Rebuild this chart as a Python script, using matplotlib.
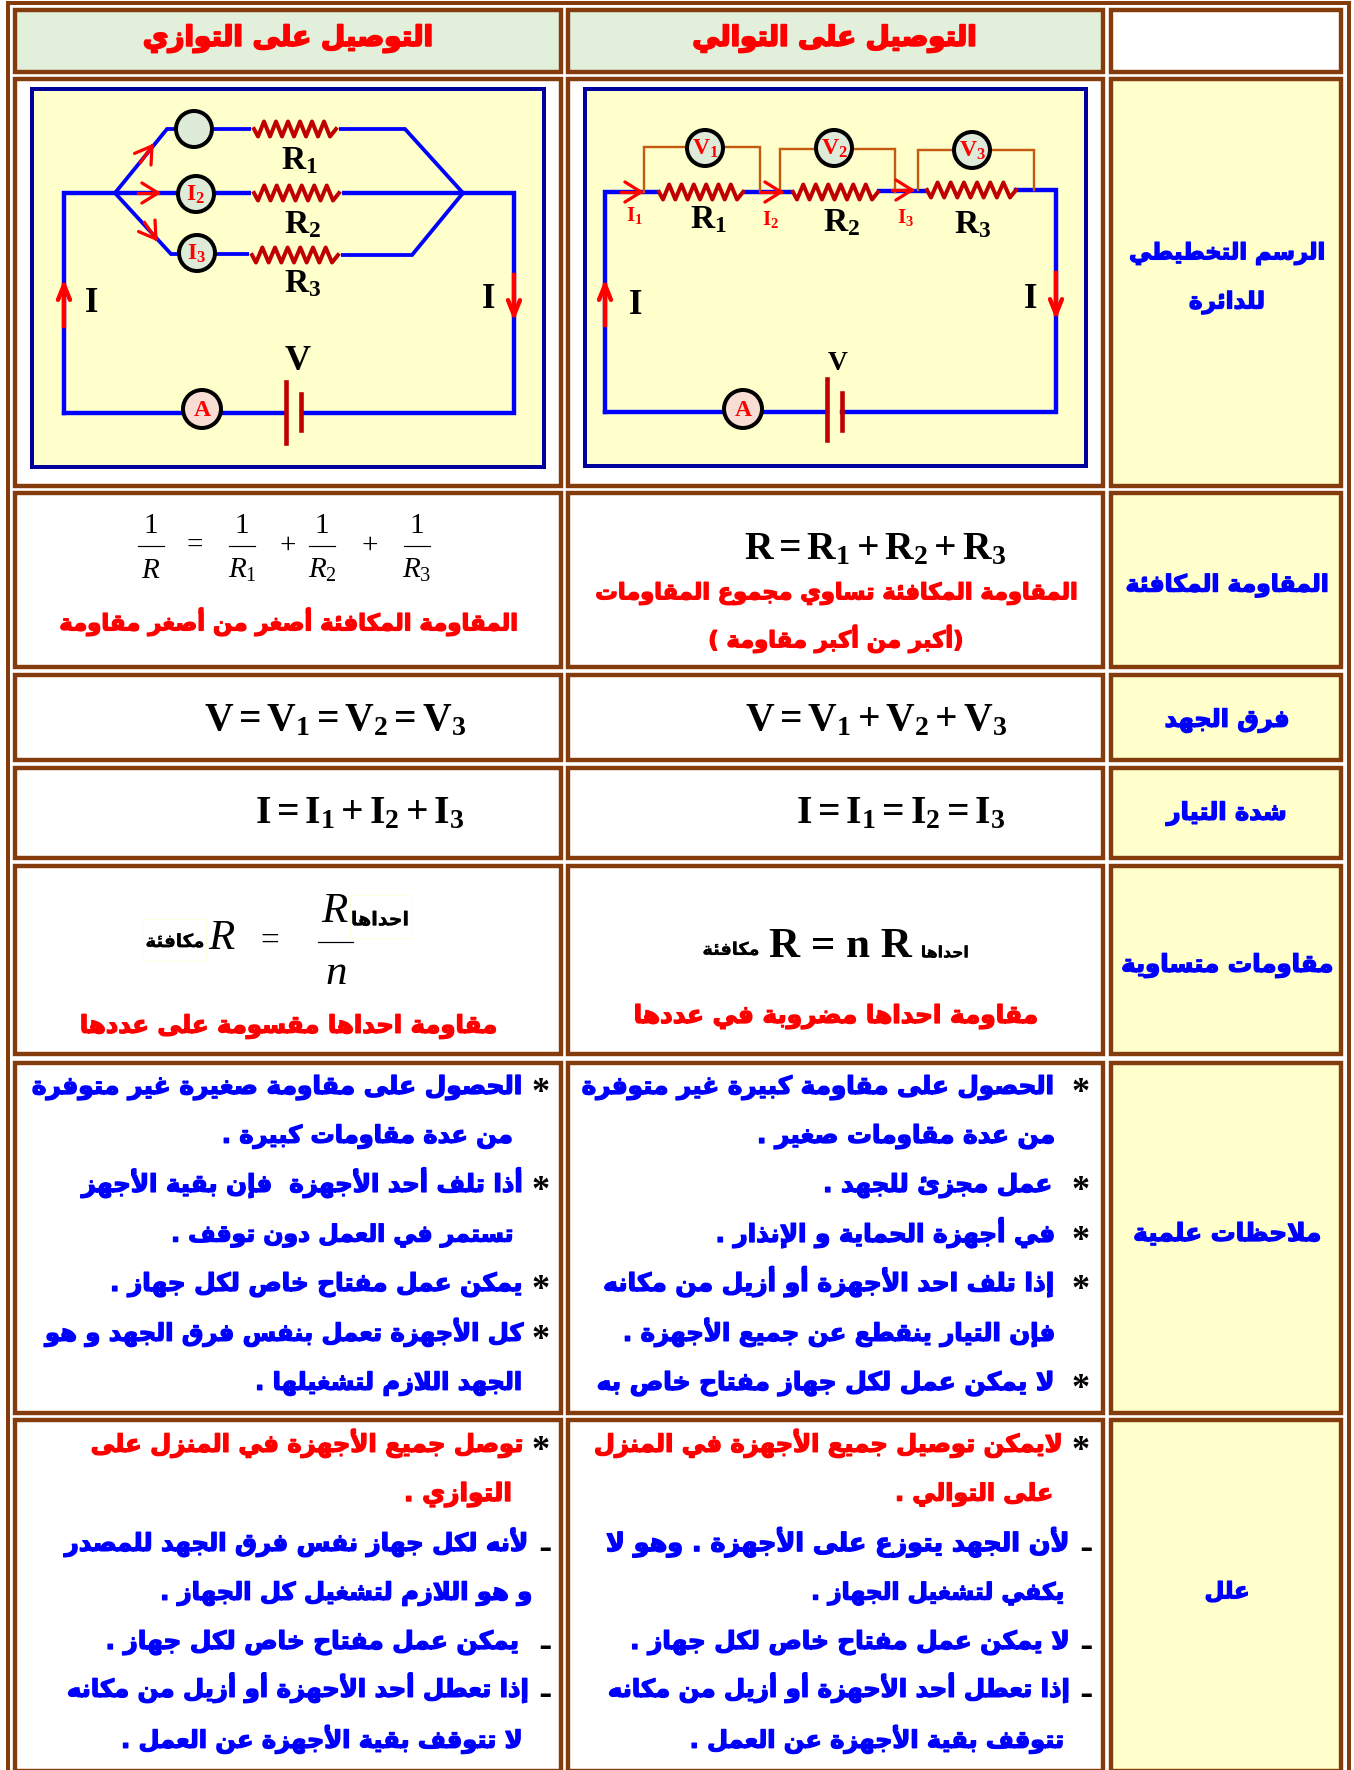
import matplotlib
matplotlib.use("Agg")
import matplotlib.pyplot as plt
from matplotlib.patches import Rectangle, Ellipse
import matplotlib.patheffects as pe
import numpy as np

plt.rcParams["mathtext.fontset"] = "custom"
plt.rcParams["mathtext.rm"] = "Liberation Serif"
plt.rcParams["mathtext.it"] = "Liberation Serif:italic"
plt.rcParams["mathtext.bf"] = "Liberation Serif:bold"

W, H = 1354, 1770
BROWN = "#843C0C"
CREAM = "#FFFFCC"
PALE_GREEN = "#E2EFDA"
NAVY = "#00009C"
WIRE = "#0000FF"
RES = "#C00000"
LOOP = "#C55A11"
RED = "#FF0000"

# table cells
col_edges = [(13, 563), (566, 1105), (1109, 1343.5)]
row_edges = [(8, 74), (77, 488), (491, 669), (673, 762), (766, 860), (864, 1056), (1061, 1415), (1418, 1773.4)]

header_par = "التوصيل على التوازي"
header_ser = "التوصيل على التوالي"
side_labels = ["الرسم التخطيطي", "للدائرة", "المقاومة المكافئة", "فرق الجهد", "شدة التيار",
               "مقاومات متساوية", "ملاحظات علمية", "علل"]

red_par_res = "المقاومة المكافئة أصغر من أصغر مقاومة"
red_ser_res = ["المقاومة المكافئة تساوي مجموع المقاومات", "(أكبر من أكبر مقاومة )"]
red_par_eq = "مقاومة احداها مقسومة على عددها"
red_ser_eq = "مقاومة احداها مضروبة في عددها"
word_equiv = "مكافئة"
word_one = "احداها"

notes_par = ["الحصول على مقاومة صغيرة غير متوفرة",
             "من عدة مقاومات كبيرة .",
             "أذا تلف أحد الأجهزة  فإن بقية الأجهز",
             "تستمر في العمل دون توقف .",
             "يمكن عمل مفتاح خاص لكل جهاز .",
             "كل الأجهزة تعمل بنفس فرق الجهد و هو",
             "الجهد اللازم لتشغيلها ."]
notes_ser = ["الحصول على مقاومة كبيرة غير متوفرة",
             "من عدة مقاومات صغير .",
             "عمل مجزئ للجهد .",
             "في أجهزة الحماية و الإنذار .",
             "إذا تلف احد الأجهزة أو أزيل من مكانه",
             "فإن التيار ينقطع عن جميع الأجهزة .",
             "لا يمكن عمل لكل جهاز مفتاح خاص به"]
why_par = ["توصل جميع الأجهزة في المنزل على",
           "التوازي .",
           "لأنه لكل جهاز نفس فرق الجهد للمصدر",
           "و هو اللازم لتشغيل كل الجهاز .",
           "يمكن عمل مفتاح خاص لكل جهاز .",
           "إذا تعطل أحد الأحهزة أو أزيل من مكانه",
           "لا تتوقف بقية الأجهزة عن العمل ."]
why_ser = ["لايمكن توصيل جميع الأجهزة في المنزل",
           "على التوالي .",
           "لأن الجهد يتوزع على الأجهزة . وهو لا",
           "يكفي لتشغيل الجهاز .",
           "لا يمكن عمل مفتاح خاص لكل جهاز .",
           "إذا تعطل أحد الأحهزة أو أزيل من مكانه",
           "تتوقف بقية الأجهزة عن العمل ."]

# where the note lines go: (left, right) in pixels
notes_par_x = [(32, 522), (222, 513), (82, 522), (171, 513), (110, 522), (45, 523), (255, 522)]
notes_ser_x = [(582, 1054), (757, 1055), (823, 1052), (716, 1055), (604, 1054), (623, 1055), (597, 1054)]
why_par_x = [(91, 523), (404, 512), (65, 528), (160, 532), (106, 519), (67, 528), (121, 522)]
why_ser_x = [(594, 1062), (895, 1053), (606, 1069), (811, 1064), (630, 1069), (608, 1069), (690, 1064)]
notes_y = [1087, 1136, 1185, 1235, 1284, 1334, 1383]
why_y = [1445, 1494, 1544, 1593, 1642, 1690, 1741]


# matplotlib does no arabic shaping, so pick the presentation forms by hand
four = "ئبتثجحخسشصضطظعغفقكلمنهي"
four_base = dict(zip(four, [0xFE89, 0xFE8F, 0xFE95, 0xFE99, 0xFE9D, 0xFEA1, 0xFEA5, 0xFEB1, 0xFEB5, 0xFEB9,
                            0xFEBD, 0xFEC1, 0xFEC5, 0xFEC9, 0xFECD, 0xFED1, 0xFED5, 0xFED9, 0xFEDD, 0xFEE1,
                            0xFEE5, 0xFEE9, 0xFEF1]))
two = "آأؤإاةدذرزوى"
two_base = dict(zip(two, [0xFE81, 0xFE83, 0xFE85, 0xFE87, 0xFE8D, 0xFE93, 0xFEA9, 0xFEAB, 0xFEAD, 0xFEAF,
                          0xFEED, 0xFEEF]))
lam_alef = {"آ": 0xFEF5, "أ": 0xFEF7, "إ": 0xFEF9, "ا": 0xFEFB}


def shape(s):
    out = []
    i = 0
    joins_prev = False
    while i < len(s):
        c = s[i]
        nxt = s[i + 1] if i + 1 < len(s) else ""
        if c == "ل" and nxt in lam_alef and nxt:
            out.append(chr(lam_alef[nxt] + (1 if joins_prev else 0)))
            joins_prev = False
            i += 2
            continue
        if c in four_base:
            base = four_base[c]
            joins_next = nxt in four_base or nxt in two_base
            if joins_prev and joins_next:
                out.append(chr(base + 3))
            elif joins_prev:
                out.append(chr(base + 1))
            elif joins_next:
                out.append(chr(base + 2))
            else:
                out.append(chr(base))
            joins_prev = joins_next
        elif c in two_base:
            out.append(chr(two_base[c] + (1 if joins_prev else 0)))
            joins_prev = False
        else:
            out.append(c)
            joins_prev = False
        i += 1
    swap = {"(": ")", ")": "("}
    return "".join(swap.get(c, c) for c in reversed(out))


fig = plt.figure(figsize=(W / 100, H / 100), dpi=100)
ax = fig.add_axes([0, 0, 1, 1])
ax.set_xlim(0, W)
ax.set_ylim(H, 0)
ax.axis("off")
px = 0.72  # one pixel in points


def arabic(s, left, right, y, color, drop=0.28, thick=1.0):
    # fit the line between left and right, y is its visual middle
    t = ax.text((left + right) / 2, y, shape(s), family="DejaVu Sans", weight="bold", color=color,
                ha="center", va="baseline", fontsize=20, zorder=6)
    t.set_path_effects([pe.withStroke(linewidth=thick, foreground=color)])
    width = t.get_window_extent(fig.canvas.get_renderer()).width
    size = 20 * (right - left) / width
    t.set_fontsize(size)
    t.set_y(y + drop * size / px)
    return t


def centered(s, cx, width, y, color, **kw):
    return arabic(s, cx - width / 2, cx + width / 2, y, color, **kw)


def latin(s, x, y, size, color="black", weight="bold", style="normal"):
    ax.text(x, y, s, family="Liberation Serif", weight=weight, style=style, color=color,
            ha="center", va="center", fontsize=size, zorder=6)


def star(x, y):
    ax.text(x, y + 17, "*", family="Liberation Serif", weight="bold", color="black",
            ha="center", va="baseline", fontsize=26, zorder=6)


def dash(x, y):
    ax.text(x, y + 7, "ـ", family="DejaVu Sans", weight="bold", color="black",
            ha="center", va="baseline", fontsize=20, zorder=6)


def wire(xs, ys, color=WIRE, lw=4.4):
    ax.plot(xs, ys, color=color, lw=lw * px, solid_capstyle="projecting", solid_joinstyle="miter", zorder=3)


def resistor(x0, x1, y, teeth=6):
    xs = np.linspace(x0 + 4, x1 - 6, 2 * teeth + 1)
    ys = y + 7.5 * np.where(np.arange(len(xs)) % 2 == 0, 1, -1)
    xs = np.r_[x0, xs, x1]
    ys = np.r_[y, ys, y]
    ax.plot(xs, ys, color=RES, lw=4 * px, solid_joinstyle="round", zorder=4)


def meter(x, y, label, fill, r=18):
    ax.add_patch(Ellipse((x, y), 2 * r, 2 * r, fc=fill, ec="black", lw=4 * px, zorder=5))
    if label:
        ax.text(x, y, label, color=RED, ha="center", va="center", fontsize=17, zorder=6)


def chevron(x, y, angle, size=19, stem=20, spread=148, lw=3.2):
    a = np.radians(angle)
    for d in (spread, -spread):
        b = a + np.radians(d)
        ax.plot([x, x + size * np.cos(b)], [y, y + size * np.sin(b)], color=RED, lw=lw * px,
                solid_capstyle="round", zorder=5)
    ax.plot([x, x - stem * np.cos(a)], [y, y - stem * np.sin(a)], color=RED, lw=lw * px, zorder=5)


def sym(base, sub, italic=False):
    if italic:
        return r"$\mathit{%s}_{\mathrm{%s}}$" % (base, sub)
    return r"$\mathbf{%s}_{\mathbf{%s}}$" % (base, sub)


# page frame
ax.add_patch(Rectangle((8, 3), 1341, 1800, fc="white", ec=BROWN, lw=4 * px, zorder=0))

# cells
for r, (y0, y1) in enumerate(row_edges):
    for c, (x0, x1) in enumerate(col_edges):
        fill = "white"
        if c == 2 and r > 0:
            fill = CREAM
        if r == 0 and c < 2:
            fill = PALE_GREEN
        ax.add_patch(Rectangle((x0 + 2.2, y0 + 2.2), x1 - x0 - 4.4, y1 - y0 - 4.4, fc=fill, ec=BROWN,
                               lw=4.4 * px, joinstyle="miter", zorder=1))

# headers
centered(header_par, 288, 290, 38, RED, thick=1.4)
centered(header_ser, 835, 284, 38, RED, thick=1.4)

# side column
side_x = 1227
side_y = [253, 302, 585, 720, 813, 965, 1234, 1592]
side_w = [196, 76, 203, 125, 120, 212, 188, 45]
for s, y, w in zip(side_labels, side_y, side_w):
    centered(s, side_x, w, y, WIRE)

# parallel circuit
ax.add_patch(Rectangle((32, 89), 512, 378, fc=CREAM, ec=NAVY, lw=4 * px, zorder=2))
wire([64, 64, 463, 514, 514, 301], [413, 193, 193, 193, 413, 413])
wire([64, 286], [413, 413])
wire([115, 167, 254], [193, 129, 129], lw=3.8)
wire([336, 405, 463], [129, 129, 193], lw=3.8)
wire([115, 171, 252], [193, 254, 254], lw=3.8)
wire([338, 412, 463], [255, 255, 193], lw=3.8)
for x0, x1, y in [(254, 336, 129), (254, 339, 193), (252, 338, 255)]:
    ax.plot([x0, x1], [y, y], color=CREAM, lw=6 * px, zorder=3.5)
    resistor(x0, x1, y)
meter(194, 129, "", "#DFEBD9")
meter(196, 194, r"$\mathbf{I}_{\mathbf{2}}$", "#DFEBD9")
meter(197, 253, r"$\mathbf{I}_{\mathbf{3}}$", "#DFEBD9")
meter(202, 409, r"$\mathbf{A}$", "#F8DDD4", r=19)
chevron(152, 146, -55)
chevron(158, 193, 0)
chevron(156, 239, 55)
chevron(64, 285, -90, size=16, stem=41, spread=158, lw=4.4)
chevron(514, 315, 90, size=16, stem=40, spread=158, lw=4.4)
ax.plot([286, 286], [382, 443], color=RES, lw=4.6 * px, zorder=4)
ax.plot([301, 301], [394, 430], color=RES, lw=4.6 * px, zorder=4)
ax.plot([288.5, 298.5], [413, 413], color=CREAM, lw=5 * px, zorder=3.5)
for n, x, y in [("1", 299, 160), ("2", 303, 224), ("3", 303, 283)]:
    ax.text(x, y, sym("R", n), ha="center", va="center", fontsize=24, zorder=6)
latin("I", 92, 304, 25)
latin("I", 489, 299, 25)
latin("V", 298, 362, 26)

# series circuit
ax.add_patch(Rectangle((585, 89), 501, 377, fc=CREAM, ec=NAVY, lw=4 * px, zorder=2))
wire([605, 605, 657], [412, 192, 192])
wire([605, 827], [412, 412])
wire([842, 1056, 1056, 1016], [412, 412, 190, 190])
for x0, x1, y in [(659, 743, 192), (793, 878, 192), (927, 1016, 190)]:
    resistor(x0, x1, y)
for x0, x1, y, yb in [(644, 760, 147, 192), (779.5, 895, 149, 192), (918, 1033.5, 150, 190)]:
    ax.plot([x0, x0, x1, x1], [yb, y, y, yb], color=LOOP, lw=2.4 * px, solid_joinstyle="miter", zorder=3.2)
wire([745, 791], [192, 192])
wire([879, 926], [191, 191])
meter(705, 148, sym("V", "1"), "#DFEBD9")
meter(834, 148, sym("V", "2"), "#DFEBD9")
meter(972, 150, sym("V", "3"), "#DFEBD9")
meter(743, 409, r"$\mathbf{A}$", "#F8DDD4", r=19)
chevron(641, 192, 0)
chevron(781, 192, 0)
chevron(912, 190, 0)
chevron(605, 285, -90, size=16, stem=40, spread=158, lw=4.4)
chevron(1056, 314, 90, size=16, stem=41, spread=158, lw=4.4)
ax.plot([827, 827], [379, 440], color=RES, lw=4.6 * px, zorder=4)
ax.plot([842, 842], [393, 430], color=RES, lw=4.6 * px, zorder=4)
for n, x, y in [("1", 634, 216), ("2", 771, 220), ("3", 906, 218)]:
    ax.text(x, y, r"$\mathbf{I}_{\mathbf{%s}}$" % n, color=RED, ha="center", va="center", fontsize=15, zorder=6)
for n, x, y in [("1", 708, 219), ("2", 842, 222), ("3", 973, 224)]:
    ax.text(x, y, sym("R", n), ha="center", va="center", fontsize=24, zorder=6)
latin("I", 636, 306, 25)
latin("I", 1031, 299, 25)
latin("V", 838, 363, 20)

# equivalent resistance, parallel
frac_x = [151, 242, 322, 417]
frac_den = [r"$\mathit{R}$", sym("R", "1", True), sym("R", "2", True), sym("R", "3", True)]
for x, den in zip(frac_x, frac_den):
    latin("1", x, 526, 21, weight="normal")
    ax.plot([x - 13, x + 13], [546, 546], color="black", lw=1.2 * px, zorder=6)
    ax.text(x, 570, den, ha="center", va="center", fontsize=21, zorder=6)
latin("=", 195, 546, 21, weight="normal")
latin("+", 288, 546, 21, weight="normal")
latin("+", 370, 546, 21, weight="normal")
centered(red_par_res, 288, 458, 624, RED)

# equivalent resistance, series
eq_size = 28.5
ax.text(875, 548, r"$\mathbf{R = R_1 + R_2 + R_3}$", ha="center", va="center", fontsize=eq_size, zorder=6)
centered(red_ser_res[0], 836, 482, 593, RED)
centered(red_ser_res[1], 836, 255, 641, RED)

# voltage and current rows
ax.text(335, 719, r"$\mathbf{V = V_1 = V_2 = V_3}$", ha="center", va="center", fontsize=eq_size, zorder=6)
ax.text(876, 719, r"$\mathbf{V = V_1 + V_2 + V_3}$", ha="center", va="center", fontsize=eq_size, zorder=6)
ax.text(360, 812, r"$\mathbf{I = I_1 + I_2 + I_3}$", ha="center", va="center", fontsize=eq_size, zorder=6)
ax.text(901, 812, r"$\mathbf{I = I_1 = I_2 = I_3}$", ha="center", va="center", fontsize=eq_size, zorder=6)

# equal resistors, parallel
ax.add_patch(Rectangle((143, 919), 63, 42, fc="white", ec="#FFFFE0", lw=1 * px, zorder=2))
ax.add_patch(Rectangle((350, 895), 61, 43, fc="white", ec="#FFFFE0", lw=1 * px, zorder=2))
centered(word_equiv, 175, 59, 942, "black", thick=0.2)
centered(word_one, 380, 58, 920, "black", thick=0.2)
latin("R", 221, 939, 31, weight="normal", style="italic")
latin("=", 270, 942, 24, weight="normal")
latin("R", 334, 912, 31, weight="normal", style="italic")
ax.plot([318, 353], [942, 942], color="black", lw=1.2 * px, zorder=6)
latin("n", 336, 974, 31, weight="normal", style="italic")
centered(red_par_eq, 288, 417, 1026, RED)

# equal resistors, series
centered(word_equiv, 731, 57, 950, "black", thick=0.2)
latin("R = n R", 840, 947, 31)
centered(word_one, 945, 48, 953, "black", thick=0.2)
centered(red_ser_eq, 836, 404, 1016, RED)

# notes
for s, (x0, x1), y in zip(notes_par, notes_par_x, notes_y):
    arabic(s, x0, x1, y, WIRE)
for s, (x0, x1), y in zip(notes_ser, notes_ser_x, notes_y):
    arabic(s, x0, x1, y, WIRE)
for i in [0, 2, 4, 5]:
    star(541, notes_y[i] - 2)
for i in [0, 2, 3, 4, 6]:
    star(1081, notes_y[i] - 2)

# reasons
for i, (s, (x0, x1), y) in enumerate(zip(why_par, why_par_x, why_y)):
    arabic(s, x0, x1, y, RED if i < 2 else WIRE)
for i, (s, (x0, x1), y) in enumerate(zip(why_ser, why_ser_x, why_y)):
    arabic(s, x0, x1, y, RED if i < 2 else WIRE)
star(541, why_y[0] - 2)
star(1081, why_y[0] - 2)
for i in [2, 4, 5]:
    dash(545, why_y[i])
    dash(1086, why_y[i])

fig.savefig("out.png", dpi=100)
